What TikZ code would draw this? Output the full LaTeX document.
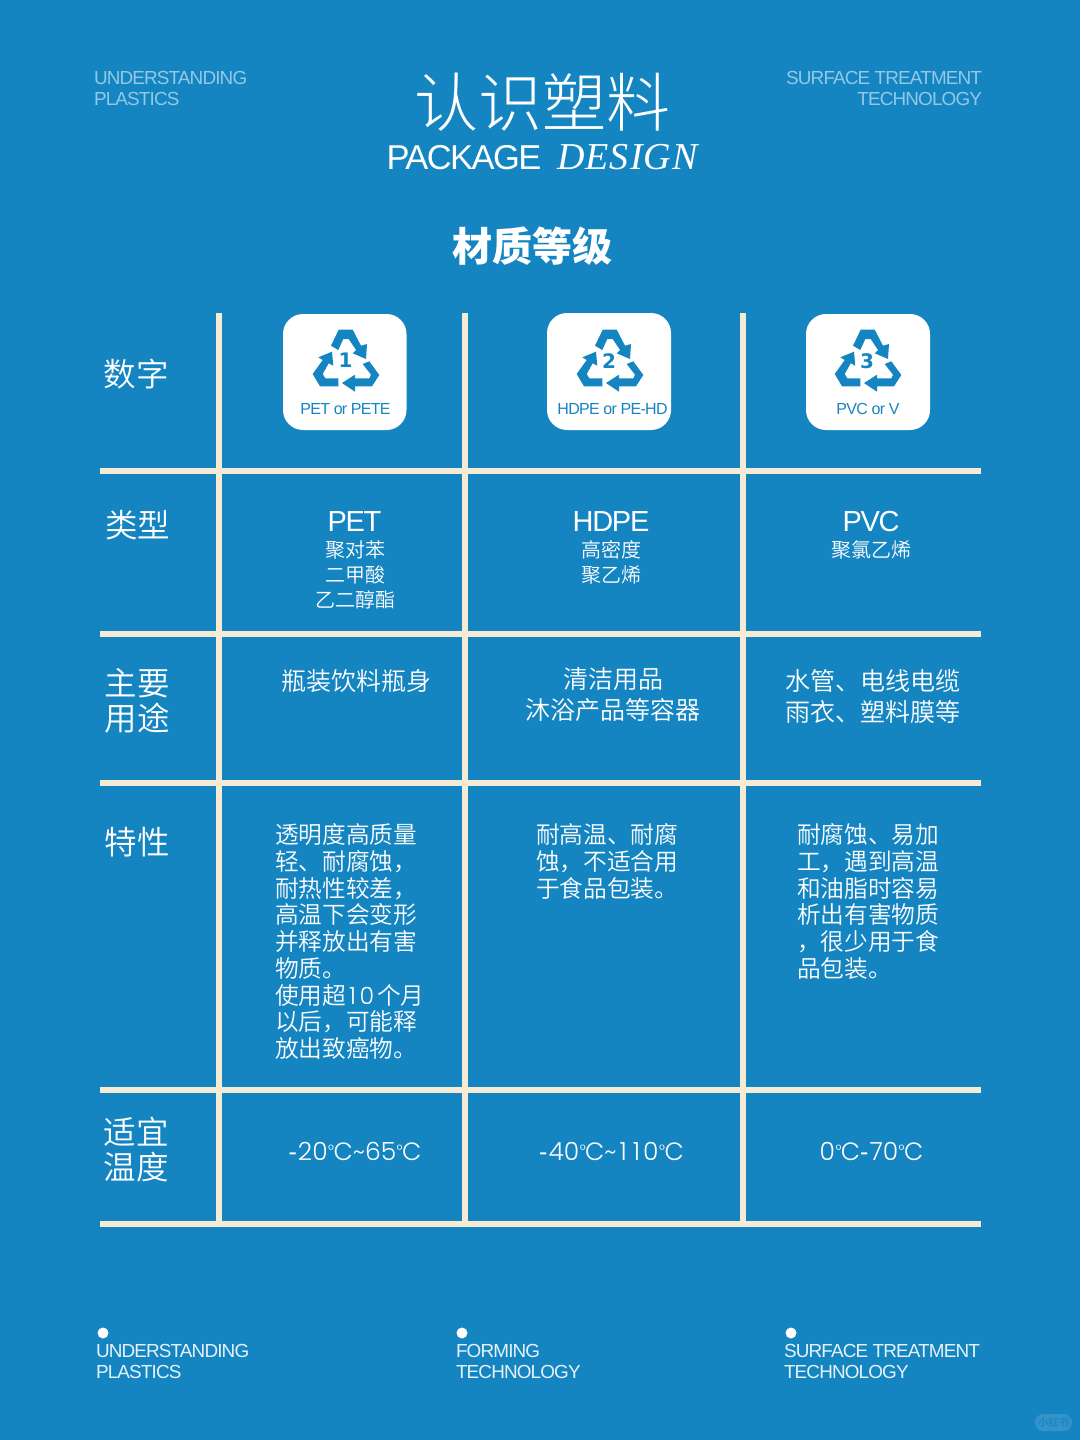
\documentclass[tikz,border=0pt]{standalone}
\usepackage{fontspec}
\setmainfont{Liberation Sans}
\newfontfamily\cjktitle{Noto Sans CJK SC Light}
\newfontfamily\cjk{Noto Sans CJK SC DemiLight}
\newfontfamily\cjkb{Noto Sans CJK SC}
\newfontfamily\lat[LetterSpace=-4.5]{Liberation Sans}
\newfontfamily\pop{Poppins Light}
\newfontfamily\dvsans{DejaVu Sans}
\newfontfamily\serifit[LetterSpace=3]{Liberation Serif}
\newcommand{\degsign}{\kern0.5pt\raisebox{5pt}{\fontsize{15}{15}\selectfont °}\kern-0.5pt}
\newcommand{\hyph}{{\rmfamily\fontsize{25}{28}\selectfont -}\kern1pt}
\newcommand{\wideone}{\kern3pt 1\kern3pt}
\definecolor{bgblue}{HTML}{1585C2}
\definecolor{cream}{HTML}{F6ECD6}
\definecolor{fadetext}{HTML}{93C8E7}
\definecolor{paletext}{HTML}{E6F2F9}
\definecolor{pill}{HTML}{3494CA}
\definecolor{pilltext}{HTML}{1E89C4}
\tikzset{
  gridline/.style={cream,line width=5.5pt},
  iconbox/.style={fill=white,rounded corners=20pt},
  txt/.style={inner sep=0pt,outer sep=0pt,text=white},
  rowlabel/.style={txt,anchor=west,align=left,font=\cjk\fontsize{32.5}{35}\selectfont},
  head/.style={txt,text=fadetext,font=\lat\fontsize{18.9}{21}\selectfont},
  foot/.style={txt,text=paletext,anchor=west,align=left,font=\lat\fontsize{18.9}{21}\selectfont},
  major/.style={txt,font=\lat\fontsize{29}{32}\selectfont},
  minor/.style={txt,align=center,font=\cjk\fontsize{20}{25}\selectfont},
  usage/.style={txt,align=center,font=\cjk\fontsize{25}{31}\selectfont},
  prop/.style={txt,anchor=west,align=left,font=\cjk\fontsize{23.7}{26.75}\selectfont},
  temp/.style={txt,font=\pop\fontsize{25}{28}\selectfont},
  iconlabel/.style={txt,text=bgblue,font=\lat\fontsize{16}{18}\selectfont},
  icondigit/.style={txt,text=bgblue,font=\dvsans\bfseries\fontsize{20}{20}\selectfont},
  footdot/.style={fill=white,draw=none},
  recycle/.pic={
    \fill[bgblue] (-15,-18.3) -- (-7.3,-34.3) -- (6.7,-34.3) -- (15,-18.3) -- (21,-20) -- (20,-5)
      -- (6.7,-10.7) -- (10,-14) -- (2.7,-25) -- (-2.7,-25) -- (-7.7,-14) -- cycle;
    \fill[bgblue] (-14,-12.3) -- (-27.7,-6.7) -- (-23.3,-4) -- (-33.3,10) -- (-26,22.3) -- (-7.7,22.3)
      -- (-7.7,14.3) -- (-20.7,14.3) -- (-23.3,10) -- (-17.3,-0.7) -- (-12.7,1.7) -- cycle;
    \fill[bgblue] (23.3,-2.7) -- (33.3,11) -- (26,22.3) -- (9,22.3) -- (9,27.7) -- (-4,19)
      -- (9,10.7) -- (9,14.3) -- (23.3,14.3) -- (25,10.7) -- (16.7,0) -- cycle;
  }
}
\begin{document}
\begin{tikzpicture}[x=1pt,y=-1pt]
\useasboundingbox (0,0) rectangle (1080,1440);
\fill[bgblue] (0,0) rectangle (1080,1440);

% header
\node[head,anchor=west,align=left] (hl) at (94,88.5) {UNDERSTANDING\\PLASTICS};
\node[head,anchor=east,align=right] (hr) at (982,88.5) {SURFACE TREATMENT\\TECHNOLOGY};
\node[txt,font=\cjktitle\fontsize{64}{64}\selectfont] (title) at (542.5,102) {认识塑料};
\node[txt,anchor=base west,font=\lat\fontsize{34.5}{35}\selectfont] (pk) at (386.5,169) {PACKAGE};
\node[txt,anchor=base west,font=\serifit\itshape\fontsize{38}{38}\selectfont] (ds) at (557,169) {DESIGN};
\node[txt,font=\cjkb\bfseries\fontsize{40}{40}\selectfont] (grade) at (532.5,246) {材质等级};

% grid
\foreach \x in {219,465,743} \draw[gridline] (\x,313) -- (\x,1227);
\foreach \y in {471,634,783,1090,1224} \draw[gridline] (100,\y) -- (981,\y);

% icons
\fill[iconbox] (283,314) rectangle (406.5,430);
\fill[iconbox] (547,313) rectangle (671,430);
\fill[iconbox] (806,314) rectangle (930,430);
\pic at (346,364) {recycle};
\pic at (610,364) {recycle};
\pic at (868,364) {recycle};
\node[icondigit] (d1) at (345.5,360.5) {1};
\node[icondigit] (d2) at (609,361) {2};
\node[icondigit] (d3) at (867,361) {3};
\node[iconlabel] (l1) at (345.5,409) {PET or PETE};
\node[iconlabel] (l2) at (612.5,409) {HDPE or PE-HD};
\node[iconlabel] (l3) at (868,409) {PVC or V};

% row labels
\node[rowlabel] (r1) at (103.5,374) {数字};
\node[rowlabel] (r2) at (105,525) {类型};
\node[rowlabel] (r3) at (104.5,700.5) {主要\\用途};
\node[rowlabel] (r4) at (104.5,842) {特性};
\node[rowlabel] (r5) at (103.5,1150) {适宜\\温度};

% type row
\node[major] (m1) at (354.5,522) {PET};
\node[major] (m2) at (611,522) {HDPE};
\node[major] (m3) at (871,522) {PVC};
\node[minor] (n1) at (355,575) {聚对苯\\二甲酸\\乙二醇酯};
\node[minor] (n2) at (611,562.5) {高密度\\聚乙烯};
\node[minor] (n3) at (871.5,550) {聚氯乙烯};

% usage row
\node[usage] (u1) at (356,681) {瓶装饮料瓶身};
\node[usage] (u2) at (613,695) {清洁用品\\沐浴产品等容器};
\node[usage] (u3) at (873,696.5) {水管、电线电缆\\雨衣、塑料膜等};

% property row
\node[prop] (p1) at (275,941.5) {透明度高质量\\轻、耐腐蚀，\\耐热性较差，\\高温下会变形\\并释放出有害\\物质。\\使用超{\pop\kern3pt 1\kern3.5pt 0\kern3pt}个月\\以后，可能释\\放出致癌物。};
\node[prop] (p2) at (536,861.5) {耐高温、耐腐\\蚀，不适合用\\于食品包装。};
\node[prop] (p3) at (797,901.5) {耐腐蚀、易加\\工，遇到高温\\和油脂时容易\\析出有害物质\\，很少用于食\\品包装。};

% temperature row
\node[temp] (t1) at (355,1151) {\hyph 20\degsign C\textasciitilde 65\degsign C};
\node[temp] (t2) at (611.5,1151) {\hyph 40\degsign C\textasciitilde\wideone\wideone 0\degsign C};
\node[temp] (t3) at (871.5,1151) {0\degsign C\hyph 70\degsign C};

% footer
\fill[footdot] (103,1333) circle (5.5);
\fill[footdot] (462,1333) circle (5.5);
\fill[footdot] (791,1333) circle (5.5);
\node[foot] (f1) at (96,1361.5) {UNDERSTANDING\\PLASTICS};
\node[foot] (f2) at (456,1361.5) {FORMING\\TECHNOLOGY};
\node[foot] (f3) at (784,1361.5) {SURFACE TREATMENT\\TECHNOLOGY};

% badge
\fill[pill,rounded corners=8.5pt] (1035,1414) rectangle (1072,1431);
\node[txt,text=pilltext,font=\cjkb\bfseries\fontsize{10.5}{11}\selectfont] (wm) at (1053.5,1422.5) {小红书};
\end{tikzpicture}
\end{document}
